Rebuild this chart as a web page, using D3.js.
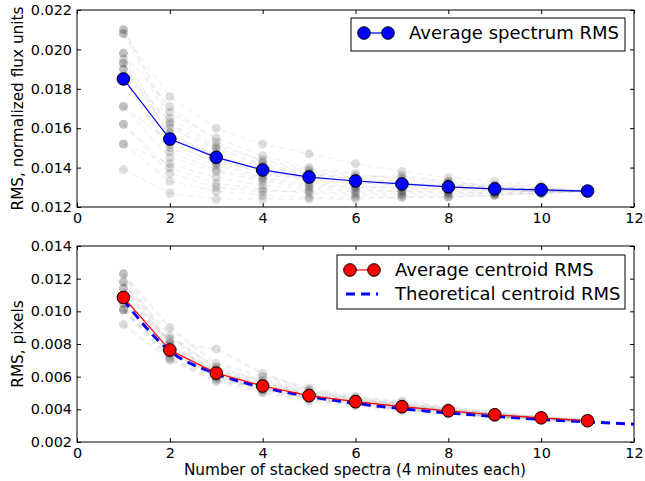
<!DOCTYPE html>
<html>
<head>
<meta charset="utf-8">
<script src="https://cdn.jsdelivr.net/npm/d3@7"></script>
<style>
  body { margin: 0; background: #fff; }
  svg { display: block; font-family: "DejaVu Sans", sans-serif; }
</style>
</head>
<body>
<svg id="chart" width="645" height="481"></svg>
<script>
// number of stacked spectra
var stackCounts = [1, 2, 3, 4, 5, 6, 7, 8, 9, 10, 11];
var theoryCounts = [1, 2, 3, 4, 5, 6, 7, 8, 9, 10, 11, 12];

// average curves
var avgSpectrumRms = [0.0185, 0.01545, 0.01452, 0.01388, 0.01352, 0.01332, 0.01317, 0.01302, 0.01292, 0.01287, 0.01281];
var avgCentroidRms = [0.01085, 0.00763, 0.00622, 0.00543, 0.00484, 0.00447, 0.00416, 0.00391, 0.00367, 0.00348, 0.0033];
var theoryCentroidRms = [0.0107, 0.00757, 0.00618, 0.00535, 0.00479, 0.00437, 0.00404, 0.00378, 0.00357, 0.00338, 0.00323, 0.00309];

// individual trials (gray)
var spectrumTrials = [
  [0.0210, 0.0168, 0.0155, 0.0146, 0.0140, 0.0137, 0.0134, 0.0132, 0.0131, 0.0130, 0.0128],
  [0.0208, 0.0176, 0.0160, 0.0152, 0.0147, 0.0142, 0.0138, 0.0135, 0.0133, 0.0131, 0.0128],
  [0.0198, 0.0171, 0.0153, 0.0143, 0.0138, 0.0135, 0.0136, 0.0133, 0.0130, 0.0129, 0.0128],
  [0.0195, 0.0160, 0.0149, 0.0141, 0.0136, 0.0133, 0.0131, 0.0131, 0.0130, 0.0129, 0.0128],
  [0.0193, 0.0157, 0.0146, 0.0139, 0.0134, 0.0132, 0.0132, 0.0130, 0.0129, 0.0128, 0.0128],
  [0.0190, 0.0163, 0.0144, 0.0137, 0.0133, 0.0131, 0.0130, 0.0129, 0.0129, 0.0128, 0.0128],
  [0.0185, 0.0150, 0.0141, 0.0135, 0.0132, 0.0130, 0.0129, 0.0129, 0.0128, 0.0128, 0.0128],
  [0.0171, 0.0145, 0.0138, 0.0133, 0.0130, 0.0129, 0.0128, 0.0127, 0.0127, 0.0127, 0.0128],
  [0.0162, 0.0140, 0.0132, 0.0129, 0.0127, 0.0126, 0.0126, 0.0126, 0.0126, 0.0127, 0.0128],
  [0.0152, 0.0133, 0.0128, 0.0126, 0.0125, 0.0125, 0.0125, 0.0125, 0.0126, 0.0127, 0.0128],
  [0.0139, 0.0127, 0.0124, 0.0124, 0.0124, 0.0124, 0.0125, 0.0125, 0.0126, 0.0127, 0.0128],
  [0.0210, 0.0165, 0.0151, 0.0144, 0.0139, 0.0136, 0.0135, 0.0133, 0.0131, 0.0130, 0.0128],
  [0.0198, 0.0155, 0.0147, 0.0140, 0.0137, 0.0134, 0.0133, 0.0132, 0.0130, 0.0129, 0.0128],
  [0.0171, 0.0153, 0.0142, 0.0136, 0.0135, 0.0133, 0.0131, 0.0130, 0.0129, 0.0128, 0.0128],
  [0.0185, 0.0148, 0.0139, 0.0134, 0.0131, 0.0130, 0.0130, 0.0129, 0.0128, 0.0128, 0.0128],
  [0.0162, 0.0137, 0.0130, 0.0128, 0.0128, 0.0127, 0.0127, 0.0127, 0.0127, 0.0128, 0.0128],
  [0.0208, 0.0162, 0.0150, 0.0142, 0.0137, 0.0134, 0.0132, 0.0131, 0.0130, 0.0129, 0.0128],
  [0.0193, 0.0152, 0.0143, 0.0138, 0.0134, 0.0132, 0.0131, 0.0130, 0.0129, 0.0128, 0.0128],
  [0.0152, 0.0142, 0.0135, 0.0131, 0.0129, 0.0128, 0.0128, 0.0128, 0.0127, 0.0128, 0.0128],
  [0.0190, 0.0158, 0.0145, 0.0138, 0.0135, 0.0133, 0.0132, 0.0131, 0.0129, 0.0129, 0.0128]
];
var centroidTrials = [
  [0.0123, 0.0090, 0.0068, 0.0060, 0.0053, 0.0048, 0.0045, 0.0041, 0.0038, 0.0035, 0.0033],
  [0.0118, 0.0085, 0.0065, 0.0058, 0.0051, 0.0047, 0.0044, 0.0041, 0.0038, 0.0035, 0.0033],
  [0.0114, 0.0081, 0.0077, 0.0062, 0.0052, 0.0046, 0.0043, 0.0040, 0.0037, 0.0035, 0.0033],
  [0.0109, 0.0078, 0.0063, 0.0055, 0.0049, 0.0045, 0.0042, 0.0039, 0.0037, 0.0034, 0.0033],
  [0.0105, 0.0075, 0.0061, 0.0053, 0.0048, 0.0044, 0.0041, 0.0039, 0.0036, 0.0034, 0.0033],
  [0.0101, 0.0072, 0.0059, 0.0051, 0.0046, 0.0043, 0.0040, 0.0038, 0.0036, 0.0034, 0.0033],
  [0.0092, 0.0070, 0.0057, 0.0050, 0.0045, 0.0042, 0.0039, 0.0037, 0.0035, 0.0034, 0.0033],
  [0.0118, 0.0079, 0.0064, 0.0056, 0.0050, 0.0046, 0.0043, 0.0040, 0.0037, 0.0035, 0.0033],
  [0.0109, 0.0074, 0.0060, 0.0054, 0.0047, 0.0044, 0.0041, 0.0038, 0.0036, 0.0034, 0.0033],
  [0.0114, 0.0077, 0.0062, 0.0052, 0.0049, 0.0045, 0.0042, 0.0039, 0.0036, 0.0035, 0.0033],
  [0.0101, 0.0071, 0.0058, 0.0053, 0.0047, 0.0043, 0.0040, 0.0038, 0.0035, 0.0034, 0.0033],
  [0.0105, 0.0083, 0.0066, 0.0057, 0.0050, 0.0047, 0.0043, 0.0040, 0.0037, 0.0035, 0.0033],
  [0.0123, 0.0080, 0.0063, 0.0055, 0.0049, 0.0045, 0.0042, 0.0039, 0.0037, 0.0034, 0.0033],
  [0.0101, 0.0076, 0.0060, 0.0052, 0.0047, 0.0044, 0.0041, 0.0038, 0.0036, 0.0034, 0.0033]
];

// tick values
var xTicks = [0, 2, 4, 6, 8, 10, 12];
var topYTicks = [0.012, 0.014, 0.016, 0.018, 0.020, 0.022];
var bottomYTicks = [0.002, 0.004, 0.006, 0.008, 0.010, 0.012, 0.014];

var svg = d3.select("#chart");
var TICK_FONT = 14.4, LABEL_FONT = 15.3, LEGEND_FONT = 18;

function drawPanel(cfg) {
  var x = d3.scaleLinear().domain([0, 12]).range([cfg.left, cfg.right]);
  var y = d3.scaleLinear().domain(cfg.yDomain).range([cfg.bottom, cfg.top]);
  var g = svg.append("g");

  var clipId = "clip" + cfg.id;
  svg.append("clipPath").attr("id", clipId).append("rect")
    .attr("x", cfg.left).attr("y", cfg.top)
    .attr("width", cfg.right - cfg.left).attr("height", cfg.bottom - cfg.top);
  var plot = g.append("g").attr("clip-path", "url(#" + clipId + ")");

  // gray trials
  var line = d3.line().x(function(d, i) { return x(stackCounts[i]); }).y(function(d) { return y(d); });
  plot.append("g").selectAll("path").data(cfg.trials).enter()
    .append("path")
    .attr("d", line)
    .attr("fill", "none")
    .attr("stroke", "#000")
    .attr("stroke-opacity", 0.05)
    .attr("stroke-width", cfg.trialWidth)
    .attr("stroke-dasharray", "6,4");
  cfg.trials.forEach(function(t) {
    plot.append("g").selectAll("circle").data(t).enter()
      .append("circle")
      .attr("cx", function(d, i) { return x(stackCounts[i]); })
      .attr("cy", function(d) { return y(d); })
      .attr("r", 4.5)
      .attr("fill", "#000")
      .attr("fill-opacity", 0.13);
  });

  // theoretical curve
  var theoryLine = d3.line().curve(d3.curveMonotoneX)
    .x(function(d, i) { return x(theoryCounts[i]); })
    .y(function(d) { return y(d); });
  if (cfg.theory) {
    plot.append("path")
      .datum(cfg.theory)
      .attr("d", theoryLine)
      .attr("fill", "none")
      .attr("stroke", "#0000ff")
      .attr("stroke-width", 3)
      .attr("stroke-dasharray", "9,6");
  }

  // average curve
  plot.append("path")
    .datum(cfg.avg)
    .attr("d", line)
    .attr("fill", "none")
    .attr("stroke", cfg.color)
    .attr("stroke-width", 1.2);
  g.append("g").selectAll("circle").data(cfg.avg).enter()
    .append("circle")
    .attr("cx", function(d, i) { return x(stackCounts[i]); })
    .attr("cy", function(d) { return y(d); })
    .attr("r", 6.3)
    .attr("fill", cfg.color)
    .attr("stroke", "#000")
    .attr("stroke-width", 1);

  // axes, ticks inside on all four sides
  var fmt = d3.format(".3f");
  var ax = g.append("g").attr("transform", "translate(0," + cfg.bottom + ")")
    .call(d3.axisBottom(x).tickValues(xTicks).tickFormat(d3.format("d")).tickSizeInner(-4).tickSizeOuter(0).tickPadding(6));
  var ay = g.append("g").attr("transform", "translate(" + cfg.left + ",0)")
    .call(d3.axisLeft(y).tickValues(cfg.yTicks).tickFormat(fmt).tickSizeInner(-4).tickSizeOuter(0).tickPadding(5));
  var axt = g.append("g").attr("transform", "translate(0," + cfg.top + ")")
    .call(d3.axisTop(x).tickValues(xTicks).tickFormat("").tickSizeInner(-4).tickSizeOuter(0));
  var ayr = g.append("g").attr("transform", "translate(" + cfg.right + ",0)")
    .call(d3.axisRight(y).tickValues(cfg.yTicks).tickFormat("").tickSizeInner(-4).tickSizeOuter(0));
  [ax, ay, axt, ayr].forEach(function(a) {
    a.select(".domain").remove();
    a.selectAll("text").attr("font-family", "DejaVu Sans").attr("font-size", TICK_FONT).attr("fill", "#000");
    a.selectAll("line").attr("stroke", "#000");
  });

  // frame
  g.append("rect")
    .attr("x", cfg.left).attr("y", cfg.top)
    .attr("width", cfg.right - cfg.left).attr("height", cfg.bottom - cfg.top)
    .attr("fill", "none").attr("stroke", "#000").attr("stroke-width", 1);

  // y label
  g.append("text")
    .attr("transform", "translate(23," + ((cfg.top + cfg.bottom) / 2) + ") rotate(-90)")
    .attr("text-anchor", "middle")
    .attr("font-size", LABEL_FONT)
    .text(cfg.yLabel);

  // legend
  var lg = g.append("g");
  lg.append("rect")
    .attr("x", cfg.legend.x).attr("y", cfg.legend.y)
    .attr("width", cfg.legend.w).attr("height", cfg.legend.h)
    .attr("fill", "#fff").attr("stroke", "#000").attr("stroke-width", 1);
  cfg.legend.items.forEach(function(it, i) {
    var ly = cfg.legend.y + 15 + i * 24;
    var lx0 = cfg.legend.x + 13, lx1 = lx0 + 24;
    if (it.marker) {
      lg.append("line").attr("x1", lx0).attr("x2", lx1).attr("y1", ly).attr("y2", ly)
        .attr("stroke", it.color).attr("stroke-width", 1.2);
      [lx0, lx1].forEach(function(cx) {
        lg.append("circle").attr("cx", cx).attr("cy", ly).attr("r", 6.3)
          .attr("fill", it.color).attr("stroke", "#000");
      });
    } else {
      lg.append("line").attr("x1", lx0 - 4).attr("x2", lx1 + 4).attr("y1", ly).attr("y2", ly)
        .attr("stroke", it.color).attr("stroke-width", 3).attr("stroke-dasharray", "9,6");
    }
    lg.append("text")
      .attr("x", lx1 + 21).attr("y", ly)
      .attr("dy", "0.35em")
      .attr("font-size", LEGEND_FONT)
      .text(it.label);
  });
}

drawPanel({
  id: "top", left: 77, right: 634, top: 10, bottom: 207,
  yDomain: [0.012, 0.022], yTicks: topYTicks,
  trials: spectrumTrials, trialWidth: 1.5, avg: avgSpectrumRms, color: "#0000ff",
  yLabel: "RMS, normalized flux units",
  legend: { x: 351, y: 18, w: 274, h: 33, items: [
    { label: "Average spectrum RMS", color: "#0000ff", marker: true }
  ] }
});

drawPanel({
  id: "bottom", left: 77, right: 634, top: 246, bottom: 442,
  yDomain: [0.002, 0.014], yTicks: bottomYTicks,
  trials: centroidTrials, trialWidth: 3, avg: avgCentroidRms, color: "#ff0000",
  theory: theoryCentroidRms,
  yLabel: "RMS, pixels",
  legend: { x: 337, y: 255, w: 288, h: 54, items: [
    { label: "Average centroid RMS", color: "#ff0000", marker: true },
    { label: "Theoretical centroid RMS", color: "#0000ff", marker: false }
  ] }
});

svg.append("text")
  .attr("x", 355).attr("y", 475)
  .attr("text-anchor", "middle")
  .attr("font-size", LABEL_FONT)
  .text("Number of stacked spectra (4 minutes each)");
</script>
</body>
</html>
